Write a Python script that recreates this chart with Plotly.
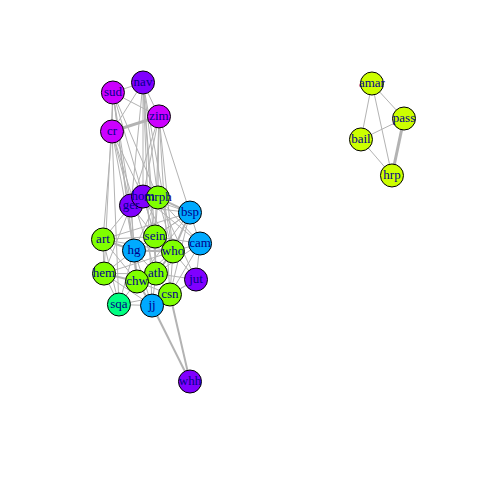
"""Co-occurrence network: three components drawn igraph-style."""

import plotly.graph_objects as go

# Node names, layout coordinates (rescaled to [-1, 1]) and colour group.
names = [
    "sud", "nav", "zim", "cr",
    "ger", "hom", "mrph", "bsp", "art", "sein", "cam", "hg", "who",
    "hem", "ath", "chw", "jut", "csn", "sqa", "jj", "whh",
    "amar", "pass", "bail", "hrp",
]
layout_x = [
    -0.934, -0.734, -0.628, -0.940,
    -0.814, -0.734, -0.635, -0.422, -1.000, -0.654, -0.355, -0.794, -0.535,
    -0.993, -0.648, -0.774, -0.382, -0.555, -0.894, -0.674, -0.422,
    0.787, 1.000, 0.714, 0.920,
]
layout_y = [
    0.933, 1.000, 0.773, 0.672,
    0.177, 0.237, 0.231, 0.130, -0.050, -0.030, -0.077, -0.124, -0.130,
    -0.278, -0.278, -0.331, -0.318, -0.418, -0.485, -0.492, -1.000,
    0.993, 0.759, 0.619, 0.378,
]
groups = [
    "magenta", "purple", "magenta", "magenta",
    "purple", "purple", "green", "blue", "green", "green", "blue", "blue", "green",
    "green", "green", "green", "purple", "green", "teal", "blue", "purple",
    "yellow", "yellow", "yellow", "yellow",
]

# Edges as (from, to, weight).
edges = [
    ("sud", "nav", 1), ("nav", "zim", 1), ("sud", "zim", 1), ("cr", "zim", 3),
    ("sud", "cr", 1), ("nav", "cr", 1),
    ("sud", "ger", 1), ("sud", "hg", 1), ("sud", "hem", 1), ("sud", "chw", 1),
    ("sud", "mrph", 1), ("sud", "sein", 1),
    ("cr", "ger", 1), ("cr", "art", 1), ("cr", "hg", 1), ("cr", "sqa", 1),
    ("cr", "hom", 1), ("cr", "ath", 1),
    ("nav", "mrph", 1), ("nav", "sein", 1), ("nav", "ath", 1), ("nav", "hom", 1),
    ("nav", "jj", 1), ("nav", "ger", 1), ("nav", "who", 1),
    ("zim", "mrph", 1), ("zim", "who", 1), ("zim", "bsp", 1),
    ("zim", "hom", 1), ("zim", "csn", 1), ("zim", "sein", 1), ("zim", "ger", 1),
    ("ger", "hom", 1), ("ger", "mrph", 1), ("hom", "mrph", 1), ("ger", "bsp", 1),
    ("hom", "bsp", 1), ("mrph", "bsp", 2), ("ger", "art", 1), ("ger", "hg", 1),
    ("ger", "sein", 1), ("ger", "hem", 1), ("ger", "chw", 1), ("hom", "sein", 1),
    ("hom", "who", 1), ("hom", "cam", 1), ("mrph", "sein", 1), ("mrph", "who", 1),
    ("mrph", "cam", 1), ("mrph", "jut", 1), ("bsp", "cam", 1), ("bsp", "who", 2),
    ("bsp", "sein", 1), ("bsp", "hg", 1), ("bsp", "chw", 1), ("bsp", "csn", 1),
    ("art", "hg", 2), ("art", "sein", 1), ("art", "hem", 1), ("art", "chw", 1),
    ("art", "sqa", 1), ("art", "who", 1), ("sein", "hg", 1), ("sein", "who", 2),
    ("sein", "ath", 1), ("sein", "cam", 1), ("hg", "who", 2), ("hg", "hem", 1),
    ("hg", "chw", 2), ("hg", "ath", 1), ("hg", "jj", 1), ("hg", "sqa", 1),
    ("who", "cam", 1), ("who", "ath", 2), ("who", "jut", 1), ("who", "csn", 1),
    ("who", "chw", 1), ("cam", "jut", 1), ("cam", "ath", 1), ("cam", "csn", 1),
    ("hem", "chw", 2), ("hem", "sqa", 1), ("hem", "jj", 1), ("hem", "ath", 1),
    ("ath", "chw", 2), ("ath", "csn", 1), ("ath", "jj", 1), ("ath", "jut", 1),
    ("chw", "sqa", 1), ("chw", "jj", 2), ("chw", "csn", 1), ("jut", "csn", 1),
    ("jut", "jj", 1), ("csn", "jj", 1), ("sqa", "jj", 1), ("sqa", "csn", 1),
    ("art", "bsp", 1), ("hem", "who", 1), ("mrph", "hg", 1),
    ("whh", "jj", 2), ("whh", "csn", 2),
    ("amar", "pass", 1), ("amar", "bail", 1), ("amar", "hrp", 1),
    ("pass", "bail", 1), ("pass", "hrp", 3), ("bail", "hrp", 1),
]

_GROUP_COLORS = {
    "magenta": "#CC00FF",
    "purple": "#8000FF",
    "green": "#80FF00",
    "blue": "#00AAFF",
    "teal": "#00FF80",
    "yellow": "#CCFF00",
}
_EDGE_COLOR = "#B3B3B3"

pos = {n: (x, y) for n, x, y in zip(names, layout_x, layout_y)}

fig = go.Figure()

# One line trace per edge width, segments split by None.
for width in sorted({w for _, _, w in edges}):
    xs, ys = [], []
    for a, b, w in edges:
        if w != width:
            continue
        xs += [pos[a][0], pos[b][0], None]
        ys += [pos[a][1], pos[b][1], None]
    fig.add_scatter(
        x=xs, y=ys, mode="lines",
        line={"color": _EDGE_COLOR, "width": width},
        hoverinfo="skip",
    )

# Vertices first, labels after, so labels sit on top of neighbouring circles.
fig.add_scatter(
    x=layout_x, y=layout_y, mode="markers",
    marker={
        "size": 23,
        "color": [_GROUP_COLORS[g] for g in groups],
        "line": {"color": "black", "width": 1},
    },
    text=names, hoverinfo="text",
)
fig.add_scatter(
    x=layout_x, y=layout_y, mode="text",
    text=names,
    textfont={"family": "Liberation Serif", "size": 13, "color": "#00008B"},
    hoverinfo="skip",
)

# Ranges offset to compensate for the page's default body margin.
fig.update_layout(
    width=480,
    height=480,
    margin={"l": 0, "r": 0, "t": 0, "b": 0},
    paper_bgcolor="white",
    plot_bgcolor="white",
    showlegend=False,
    xaxis={"range": [-1.631, 1.558], "visible": False},
    yaxis={"range": [-1.712, 1.498], "visible": False},
)

fig.write_html("out.html")
